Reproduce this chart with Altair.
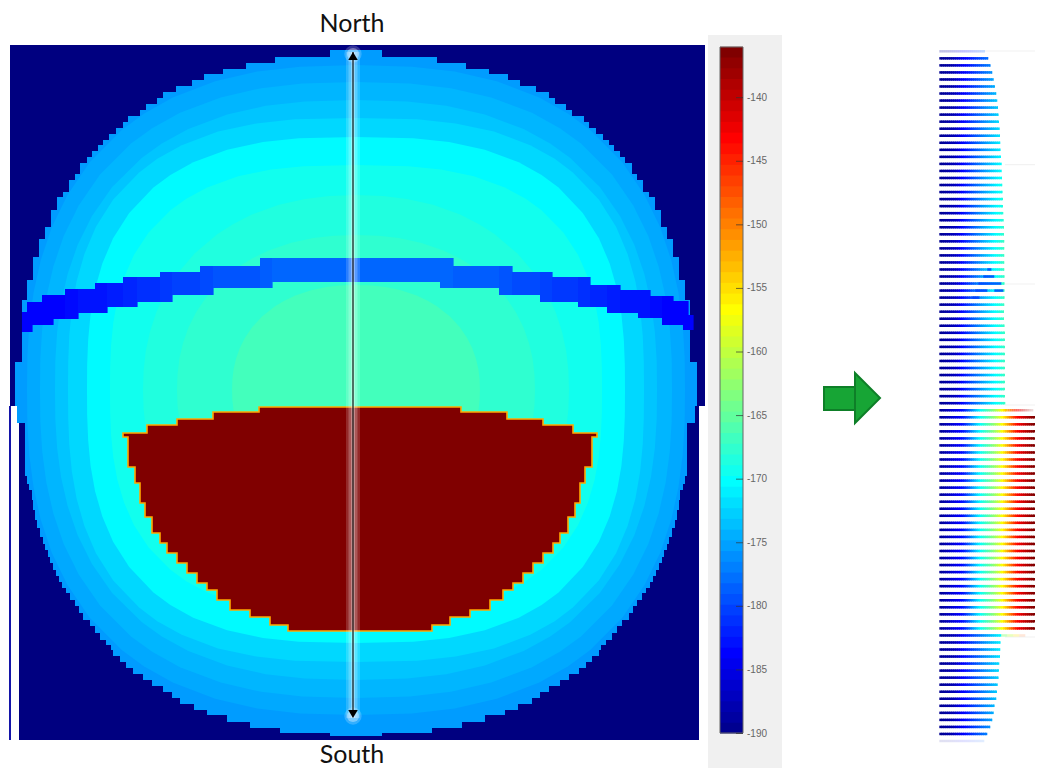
import altair as alt
import numpy as np
import pandas as pd

alt.data_transformers.disable_max_rows()

# ---------- colour ramp (jet) ----------
jet_values = [-190.0, -184.0, -170.3, -156.6, -142.9, -136.0]
jet_colors = ["#000090", "#0000ff", "#00ffff", "#ffff00", "#ff0000", "#800000"]
cbar_levels = [
    -190.0, -189.1, -188.3, -187.4, -186.6, -185.7, -184.9, -184.0,
    -183.1, -182.3, -181.4, -180.6, -179.7, -178.9, -178.0, -177.1,
    -176.3, -175.4, -174.6, -173.7, -172.9, -172.0, -171.1, -170.3,
    -169.4, -168.6, -167.7, -166.9, -166.0, -165.1, -164.3, -163.4,
    -162.6, -161.7, -160.9, -160.0, -159.1, -158.3, -157.4, -156.6,
    -155.7, -154.9, -154.0, -153.1, -152.3, -151.4, -150.6, -149.7,
    -148.9, -148.0, -147.1, -146.3, -145.4, -144.6, -143.7, -142.9,
    -142.0, -141.1, -140.3, -139.4, -138.6, -137.7, -136.9, -136.0,
]
cbar_ticks = [-140, -145, -150, -155, -160, -165, -170, -175, -180, -185, -190]

# ---------- map: outer disk edge (row top, left edge) ----------
disk_value = -175.6
disk_top_y = [50, 57, 63, 69, 74, 80, 86, 92, 98, 104, 110, 116, 122, 128, 134, 140, 145, 151, 157, 163,
              174, 180, 192, 197, 210, 227, 239, 257, 280, 300, 362, 406]
disk_top_x = [330, 275, 246, 223, 204, 192, 176, 163, 157, 146, 140, 128, 123, 116, 109, 103, 98, 92, 87, 80,
              75, 69, 63, 57, 51, 45, 39, 33, 27, 22, 15, 15]
disk_low_y = [406, 423, 476, 484, 490, 500, 510, 520, 528, 537, 544, 550, 557, 563, 570, 576, 582, 588, 593,
              600, 606, 613, 620, 626, 633, 640, 645, 650, 656, 662, 668, 674, 680, 686, 692, 698, 704, 710,
              715, 722, 728, 733, 736]
disk_low_x = [17, 25, 27, 29, 32, 33, 35, 37, 40, 43, 45, 48, 50, 53, 56, 59, 62, 66, 70,
              75, 79, 83, 90, 95, 100, 106, 111, 113, 120, 126, 133, 143, 152, 163, 172, 180, 194, 207,
              227, 250, 280, 330, 330]

# contour bands: value, half width, half height, outline index
band_values = [-174.9, -174.2, -173.4, -172.4, -170.5, -169.4, -168.6, -167.8, -166.7]
band_half_w = [329, 316, 301, 288, 269, 246, 213, 179, 124]
band_half_h = [325, 308, 290, 272, 253, 225, 195, 155, 105]
band_outline = [0, 0, 0, 1, 1, 1, 2, 2, 2]
outline_dy = [0, .1, .2, .3, .4, .5, .6, .7, .8, .85, .9, .95, .98, .995, 1]
outlines = [
    [1, .999, .993, .98, .958, .925, .877, .81, .712, .645, .557, .428, .3, .17, 0],
    [1, .9994, .9956, .9866, .97, .943, .903, .843, .753, .69, .605, .479, .346, .213, 0],
    [1, .997, .987, .967, .937, .894, .836, .758, .65, .578, .489, .362, .24, .127, 0],
]

# blue arc across the map
arc_x = [22, 27, 32, 42, 53, 65, 78, 95, 107, 123, 137, 160, 172, 200, 213, 260, 272, 440, 453, 499, 512, 540,
         552, 578, 590, 607, 620, 638, 650, 662, 673, 683, 688, 693]
arc_top = [312, 302, 302, 295, 295, 289, 289, 283, 283, 277, 277, 272, 272, 266, 266, 258, 258, 258, 266, 266, 272,
           272, 277, 277, 285, 285, 290, 290, 296, 296, 301, 301, 315]
arc_bot = [332, 332, 325, 325, 319, 319, 313, 313, 307, 307, 302, 302, 295, 295, 288, 288, 282, 288, 288, 295, 295,
           302, 302, 307, 307, 313, 313, 318, 318, 325, 325, 330, 330]
arc_val = [-184, -184, -184, -184, -184, -183.5, -183, -183, -182.5, -182, -181.5, -181, -180.5, -180, -179.5, -179,
           -178.5, -178.5, -179, -179.5, -180, -180.5, -181, -181.5, -182, -182.5, -183, -183, -183.5, -184, -184,
           -184, -184]

# red region: row top, left edge
red_y = [407, 412, 419, 425, 433, 437, 467, 483, 503, 517, 533, 543, 553, 563, 573, 583, 590, 600, 610, 617, 625, 631]
red_x = [259, 213, 177, 147, 123, 128, 135, 140, 145, 152, 160, 167, 177, 187, 197, 207, 217, 230, 250, 270, 288, 318]

# green arrow
arrow_body = [824, 856, 387, 410]
head_x = [855, 880]
head_t = [373, 398]
head_b = [423, 398]

# ---------- comb of row profiles on the right ----------
comb_len = [45.7,
            49.0, 51.3, 53.0, 54.3, 55.7, 57.0, 58.0, 58.7, 59.3, 59.7,
            60.3, 60.7, 61.0, 61.3, 61.7, 62.3, 62.3, 62.7, 63.0, 63.3,
            63.7, 63.7, 64.0, 64.3, 64.7, 64.7, 65.0, 65.0, 65.0, 65.0,
            65.0, 65.3, 65.3, 65.3, 65.3, 65.0, 64.7, 64.7, 65.3, 65.7,
            65.7, 65.7, 65.7, 65.7, 65.7, 65.7, 65.7, 65.7, 65.7, 66.0,
            94.0,
            99.3, 101.7, 103.7, 104, 104, 104, 104, 104, 104, 104, 104, 104, 104, 104, 104, 104,
            103.7, 103.7, 103.3, 103.0, 102.7, 102.3, 102.0, 102.0, 101.7, 101.3, 101.0, 100.0, 99.3, 97.3, 95.7,
            62.0,
            61.3, 61.0, 60.7, 60.0, 59.7, 59.3, 58.3, 57.7, 57.0, 55.3, 54.3, 53.0, 51.0, 48.0,
            45.0]
comb_end = [-178, -178, -177, -176, -175, -174.5, -174, -173, -173, -172.5, -172,
            -172, -171.5, -171, -171, -170.5, -170, -170, -169.5, -169, -169,
            -168.5, -168.5, -168, -168, -167.5, -167.5, -167, -167, -167, -167,
            -167, -167, -167, -167, -167, -167, -167, -167, -167, -167,
            -167, -167, -167, -167, -167, -167, -167, -167, -167, -167]
comb_low_end = [-170.5, -171, -171, -171.5, -172, -172, -172.5, -173, -173, -173.5, -174, -174.5, -175, -176, -177, -178]
comb_opacity = {0: .25, 98: .12}
up_frac = [0, .25, .37, .58, .83, 1]
up_prof = [0, .12, .3, .55, .83, 1]
red_d = [0, 24, 41, 54, 63, 78, 94, 104]
red_v = [-190, -183, -170, -163, -156.5, -143, -136, -136]
dip_rows = [31, 32, 33, 34, 34, 35]
dip_from = [48, 44, 39, 36, 55, 33]
dip_to = [52, 55, 62, 48, 64, 40]
faint_y = [51, 164.6, 284, 405, 637]
faint_from = [985, 1005, 1005, 1005, 1005]

# ---------- scales ----------
xs = alt.Scale(domain=[8, 1035], range=[0, 1027], nice=False, zero=False)
ys = alt.Scale(domain=[8, 768], range=[0, 760], nice=False, zero=False)
cs = alt.Scale(domain=jet_values, range=jet_colors, interpolate="rgb")
cbar_y = alt.Scale(domain=[-190, -136], range=[725.5, 38.8], nice=False, zero=False)
cbar_i = alt.Scale(domain=[0, 64], range=[725.5, 38.8], nice=False, zero=False)
comb_y = alt.Scale(domain=[0, 98], range=[43.3, 733], nice=False, zero=False)


def X(f="x"):
    return alt.X(f, type="quantitative", scale=xs, axis=None)


def Y(f="y"):
    return alt.Y(f, type="quantitative", scale=ys, axis=None)


def C(f="v"):
    return alt.Color(f, type="quantitative", scale=cs, legend=None)


layers = []


def rect_layer(x, x2, y, y2, color):
    d = pd.DataFrame({"x": [x], "x2": [x2], "y": [y], "y2": [y2]})
    return alt.Chart(d).mark_rect(color=color).encode(X(), x2=alt.X2("x2"), y=Y(), y2=alt.Y2("y2"))


# navy backgrounds and left rule
layers.append(rect_layer(10, 705, 45, 406, "#000080"))
layers.append(rect_layer(19, 699, 406, 740, "#000080"))
layers.append(rect_layer(9, 11, 406, 740, "#1414a8"))
CX = 356
CY = 390
# disk
d = pd.DataFrame({"y": disk_top_y, "x": disk_top_x, "v": disk_value})
d["x2"] = 2 * CX - d["x"]
layers.append(alt.Chart(d).mark_area(orient="horizontal", interpolate="step-before")
              .encode(Y(), X(), x2=alt.X2("x2"), color=C()))
d = pd.DataFrame({"y": disk_low_y, "x": disk_low_x, "v": disk_value})
d["x2"] = 2 * CX - d["x"]
layers.append(alt.Chart(d).mark_area(orient="horizontal", interpolate="step-before")
              .encode(Y(), X(), x2=alt.X2("x2"), color=C()))
# contour bands
for v, a, b, k in zip(band_values, band_half_w, band_half_h, band_outline):
    fy = np.array(outline_dy)
    fw = np.array(outlines[k])
    ya = np.concatenate([CY - b * fy[::-1], CY + b * fy[1:]])
    wa = np.concatenate([fw[::-1], fw[1:]]) * a
    d = pd.DataFrame({"y": ya, "x": CX - wa, "x2": CX + wa, "v": v})
    layers.append(alt.Chart(d).mark_area(orient="horizontal").encode(Y(), X(), x2=alt.X2("x2"), color=C()))
# arc
d = pd.DataFrame({"x": arc_x[:-1], "x2": [a + .6 for a in arc_x[1:]], "y": arc_top, "y2": arc_bot, "v": arc_val})
layers.append(alt.Chart(d).mark_rect().encode(X(), x2=alt.X2("x2"), y=Y(), y2=alt.Y2("y2"), color=C()))
# red region
d = pd.DataFrame({"y": red_y, "x": red_x})
d["x2"] = 720 - d["x"]
layers.append(alt.Chart(d).mark_area(orient="horizontal", interpolate="step-before", color="#800000",
                                     stroke="#ffa800", strokeWidth=1.6)
              .encode(Y(), X(), x2=alt.X2("x2")))
# glow and arrow
d = pd.DataFrame({"x": [353], "y": [52], "y2": [718]})
for w, o in [(14, .16), (9, .22), (4, .3)]:
    layers.append(alt.Chart(d).mark_rule(color="white", strokeWidth=w, opacity=o)
                  .encode(X(), y=Y(), y2=alt.Y2("y2")))
g = pd.DataFrame({"x": [353, 353], "y": [54, 716]})
for s, o in [(300, .2), (150, .35)]:
    layers.append(alt.Chart(g).mark_point(shape="circle", filled=True, color="white", size=s, opacity=o, strokeWidth=0)
                  .encode(X(), Y()))
layers.append(alt.Chart(pd.DataFrame({"x": [353], "y": [52], "y2": [716]})).mark_rule(color="#111", strokeWidth=1.2)
              .encode(X(), y=Y(), y2=alt.Y2("y2")))
layers.append(alt.Chart(pd.DataFrame({"x": [353], "y": [56]})).mark_point(shape="triangle-up", filled=True, color="black", size=90, opacity=1)
              .encode(X(), Y()))
layers.append(alt.Chart(pd.DataFrame({"x": [353], "y": [714]})).mark_point(shape="triangle-down", filled=True, color="black", size=90, opacity=1)
              .encode(X(), Y()))
# North / South
t = pd.DataFrame({"x": [352, 352], "y": [24, 755], "t": ["North", "South"]})
layers.append(alt.Chart(t).mark_text(font="Lato", fontSize=25, color="#111", align="center", baseline="middle")
              .encode(X(), Y(), text="t:N"))

# colour bar
layers.append(rect_layer(708, 782, 35, 768, "#f0f0f0"))
d = pd.DataFrame({"v": cbar_levels, "i": list(range(64)), "i2": [min(i + 1.3, 64) for i in range(64)], "x": 720, "x2": 743})
layers.append(alt.Chart(d).mark_rect().encode(X(), x2=alt.X2("x2"),
              y=alt.Y("i:Q", scale=cbar_i, axis=None), y2=alt.Y2("i2"), color=C()))
d = pd.DataFrame({"x": [720], "x2": [743], "y": [47], "y2": [733]})
layers.append(alt.Chart(d).mark_rect(fill=None, stroke="#666", strokeWidth=1)
              .encode(X(), x2=alt.X2("x2"), y=Y(), y2=alt.Y2("y2")))
tk = pd.DataFrame({"tick": cbar_ticks, "x": 736, "x2": 743, "xl": 747, "label": [str(v) for v in cbar_ticks]})
layers.append(alt.Chart(tk).mark_rule(color="#333", opacity=.7, strokeWidth=1)
              .encode(X(), x2=alt.X2("x2"), y=alt.Y("tick:Q", scale=cbar_y, axis=None)))
layers.append(alt.Chart(tk).mark_text(font="Liberation Sans", fontSize=10, color="#666", align="left", baseline="middle")
              .encode(X("xl"), y=alt.Y("tick:Q", scale=cbar_y, axis=None), text="label:N"))

# green arrow
d = pd.DataFrame({"x": [arrow_body[0]], "x2": [arrow_body[1]], "y": [arrow_body[2]], "y2": [arrow_body[3]]})
layers.append(alt.Chart(d).mark_rect(color="#17a535", stroke="#0e7f28", strokeWidth=2)
              .encode(X(), x2=alt.X2("x2"), y=Y(), y2=alt.Y2("y2")))
d = pd.DataFrame({"x": head_x, "y": head_t, "y2": head_b})
layers.append(alt.Chart(d).mark_area(color="#17a535", stroke="#0e7f28", strokeWidth=2)
              .encode(X(), Y(), y2=alt.Y2("y2")))

# faint guide lines on the right
d = pd.DataFrame({"y": faint_y, "x": faint_from, "x2": 1043})
layers.append(alt.Chart(d).mark_rule(color="#f2f2f2", strokeWidth=1.2).encode(X(), x2=alt.X2("x2"), y=Y()))

# comb rows
X0 = 939.3
upper = comb_end
lower = comb_low_end
rows = []
for r, L in enumerate(comb_len):
    op = comb_opacity.get(r, 1)
    red = 51 <= r <= 82
    if red:
        end = None
    elif r < 51:
        end = upper[r]
    else:
        end = lower[r - 83]
    for dd in np.arange(0, L, 2.0):
        mid = min(dd + 1, L)
        if red:
            v = float(np.interp(mid, red_d, red_v))
        else:
            v = -190 + (end + 190) * float(np.interp(mid / L, up_frac, up_prof))
        o = op
        if r == 51 and mid > 65:
            o = max(.15, 1 - (mid - 65) / 32)
        over = .7 if o == 1 else 0
        rows.append({"r": r, "x": X0 + dd, "x2": X0 + min(dd + 2 + over, L), "v": v, "o": o})
    if r == 83:
        for dd, v, o in [(62, -163, .45), (68, -160, .35), (74, -155, .25), (80, -148, .15)]:
            rows.append({"r": r, "x": X0 + dd, "x2": X0 + dd + 6, "v": v, "o": o})
d = pd.DataFrame(rows)
layers.append(alt.Chart(d).mark_rule(strokeWidth=2.5).encode(
    X(), x2=alt.X2("x2"), y=alt.Y("r:Q", scale=comb_y, axis=None),
    color=C(), opacity=alt.Opacity("o:Q", scale=None, legend=None)))
d = pd.DataFrame({"r": dip_rows, "x": [X0 + a for a in dip_from], "x2": [X0 + b for b in dip_to], "v": -181})
layers.append(alt.Chart(d).mark_rule(strokeWidth=2.5, opacity=.8).encode(
    X(), x2=alt.X2("x2"), y=alt.Y("r:Q", scale=comb_y, axis=None), color=C()))

chart = (alt.layer(*layers)
         .resolve_scale(y="independent")
         .properties(width=1027, height=760, padding=0,
                     autosize=alt.AutoSizeParams(type="none"),
                     background="white")
         .configure_view(stroke=None))
chart.save("out.html", embed_options={"renderer": "svg", "actions": False})
